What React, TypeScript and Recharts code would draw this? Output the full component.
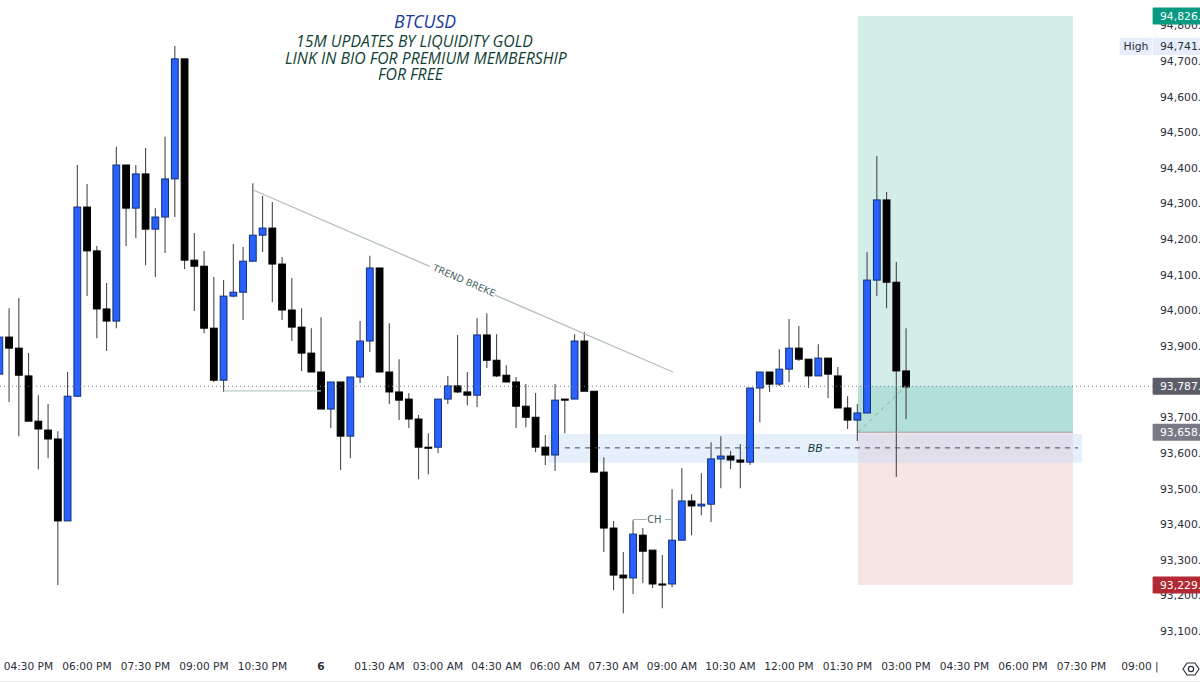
import React from 'react';
import {
  ComposedChart,
  Bar,
  XAxis,
  YAxis,
  ReferenceArea,
  ReferenceLine,
  ReferenceDot,
} from 'recharts';

const opens = [93821, 93925, 93894, 93816, 93689, 93664, 93639, 93409, 93759, 94290, 94167, 94004, 93970, 94408, 94287, 94383, 94228, 94262, 94369, 94706, 94141, 94124, 93950, 93804, 94040, 94051, 94138, 94211, 94231, 94130, 94001, 93953, 93880, 93827, 93723, 93799, 93647, 93813, 93914, 94119, 93827, 93771, 93751, 93695, 93616, 93616, 93751, 93788, 93771, 93762, 93931, 93860, 93818, 93799, 93731, 93700, 93616, 93594, 93751, 93751, 93914, 93773, 93546, 93389, 93257, 93249, 93369, 93327, 93232, 93232, 93355, 93465, 93451, 93456, 93583, 93591, 93580, 93574, 93782, 93827, 93793, 93835, 93894, 93863, 93816, 93866, 93816, 93726, 93692, 93712, 94085, 94310, 94079, 93830];
const highs = [93925, 94006, 94035, 93880, 93762, 93737, 93661, 93827, 94408, 94355, 94181, 94077, 94459, 94408, 94408, 94456, 94287, 94487, 94742, 94706, 94217, 94167, 94094, 94085, 94186, 94178, 94357, 94321, 94304, 94150, 94091, 94006, 93950, 93981, 93799, 93799, 93813, 93970, 94153, 94119, 93964, 93863, 93768, 93706, 93655, 93751, 93816, 93931, 93827, 93978, 93992, 93933, 93846, 93813, 93793, 93768, 93650, 93793, 93751, 93933, 93939, 93773, 93588, 93409, 93322, 93411, 93389, 93327, 93313, 93498, 93557, 93484, 93543, 93630, 93647, 93605, 93625, 93782, 93827, 93827, 93891, 93976, 93956, 93863, 93905, 93866, 93841, 93759, 93737, 94164, 94433, 94332, 94136, 93950];
const lows = [93821, 93743, 93647, 93689, 93554, 93585, 93229, 93409, 93757, 94040, 93922, 93886, 93950, 94181, 94203, 94127, 94094, 94161, 94262, 94116, 93998, 93936, 93799, 93771, 94037, 93973, 94138, 94164, 94023, 93973, 93914, 93830, 93827, 93723, 93670, 93552, 93585, 93796, 93883, 93827, 93737, 93692, 93670, 93526, 93540, 93599, 93737, 93768, 93734, 93729, 93838, 93813, 93799, 93670, 93672, 93602, 93566, 93549, 93655, 93751, 93773, 93546, 93322, 93215, 93150, 93204, 93235, 93221, 93164, 93223, 93355, 93369, 93425, 93406, 93501, 93554, 93501, 93566, 93686, 93771, 93788, 93799, 93858, 93782, 93816, 93754, 93726, 93667, 93633, 93712, 94040, 94006, 93532, 93695];
const closes = [93925, 93894, 93818, 93689, 93667, 93639, 93409, 93759, 94290, 94167, 94004, 93970, 94408, 94287, 94383, 94228, 94262, 94369, 94706, 94141, 94124, 93950, 93804, 94040, 94051, 94138, 94211, 94231, 94130, 94001, 93953, 93880, 93827, 93723, 93799, 93647, 93813, 93914, 94119, 93827, 93771, 93748, 93695, 93616, 93613, 93751, 93788, 93771, 93762, 93931, 93860, 93816, 93799, 93731, 93700, 93616, 93594, 93748, 93748, 93914, 93773, 93546, 93389, 93257, 93249, 93372, 93324, 93232, 93229, 93355, 93465, 93451, 93456, 93583, 93591, 93580, 93574, 93782, 93827, 93793, 93835, 93894, 93863, 93816, 93866, 93821, 93726, 93692, 93712, 94085, 94310, 94079, 93830, 93785];

// 93,800 sits behind the last price badge in the reference, so it is left out
const priceTicks = [93100, 93200, 93300, 93400, 93500, 93600, 93700, 93900, 94000, 94100, 94200, 94300, 94400, 94500, 94600, 94700, 94800];
const timeTicks = [3, 9, 15, 21, 27, 33, 39, 45, 51, 57, 63, 69, 75, 81, 87, 93, 99, 105, 111, 117];
const timeLabels = ['04:30 PM', '06:00 PM', '07:30 PM', '09:00 PM', '10:30 PM', '6', '01:30 AM', '03:00 AM', '04:30 AM', '06:00 AM', '07:30 AM', '09:00 AM', '10:30 AM', '12:00 PM', '01:30 PM', '03:00 PM', '04:30 PM', '06:00 PM', '07:30 PM', '09:00 |'];

const targetPrice = 94826;
const sessionHigh = 94741;
const lastPrice = 93787;
const entryPrice = 93658;
const stopPrice = 93229;
const zoneTop = 93653;
const zoneBottom = 93572;
const zoneMid = 93614;

const titleLines = ['15M UPDATES BY LIQUIDITY GOLD', 'LINK IN BIO FOR PREMIUM MEMBERSHIP', 'FOR FREE'];

const candles = opens.map((open, i) => ({
  t: i,
  open,
  high: highs[i],
  low: lows[i],
  close: closes[i],
  range: [lows[i], highs[i]],
}));

const FONT = '"DejaVu Sans", sans-serif';

const Candle = (props: any) => {
  const { x, y, width, height, payload } = props;
  const { open, close, high, low } = payload;
  const k = height / (high - low);
  const bodyTop = y + (high - Math.max(open, close)) * k;
  const bodyH = Math.max(Math.abs(open - close) * k, 1);
  const mid = x + width / 2;
  const up = close >= open;
  return (
    <g>
      <line x1={mid} x2={mid} y1={y} y2={y + height} stroke="#4a4a4a" strokeWidth={1.1} />
      <rect
        x={mid - 3.4}
        y={bodyTop}
        width={6.8}
        height={bodyH}
        fill={up ? '#2962ff' : '#000000'}
        stroke={up ? '#0f2f7a' : '#000000'}
        strokeWidth={1}
      />
    </g>
  );
};

const PriceTick = ({ y, payload }: any) => (
  <text x={1160} y={y} dy={4} fontSize={10.8} fontFamily={FONT} fill="#2a2e39">
    {payload.value.toLocaleString('en-US')}.
  </text>
);

const TimeTick = ({ x, y, payload }: any) => {
  const label = timeLabels[timeTicks.indexOf(payload.value)];
  return (
    <text
      x={x}
      y={y}
      dy={14}
      textAnchor="middle"
      fontSize={10.6}
      fontWeight={label === '6' ? 700 : 400}
      fontFamily={FONT}
      fill="#2a2e39"
    >
      {label}
    </text>
  );
};

const badge = (text: string, fill: string, color = '#ffffff') => (props: any) => (
  <g>
    <rect x={props.cx} y={props.cy - 8.5} width={50} height={17} fill={fill} rx={1} />
    <text x={1160} y={props.cy} dy={4} fontSize={10.8} fontFamily={FONT} fill={color}>
      {text}
    </text>
  </g>
);

const highBadge = (props: any) => (
  <g>
    <rect x={props.cx - 33} y={props.cy - 8.5} width={80} height={17} fill="#e6eefb" />
    <rect x={props.cx - 1} y={props.cy - 8.5} width={1} height={17} fill="#ffffff" />
    <text x={props.cx - 29} y={props.cy} dy={4} fontSize={10.8} fontFamily={FONT} fill="#2a2e39">High</text>
    <text x={1160} y={props.cy} dy={4} fontSize={10.8} fontFamily={FONT} fill="#2a2e39">94,741.</text>
  </g>
);

const note = (text: string, rotate = 0, italic = false, size = 9.5, color = '#45625d') => (props: any) => (
  <text
    x={props.cx}
    y={props.cy}
    dy={size * 0.36}
    textAnchor="middle"
    fontSize={size}
    fontStyle={italic ? 'italic' : 'normal'}
    fontFamily={FONT}
    fill={color}
    transform={rotate ? `rotate(${rotate} ${props.cx} ${props.cy})` : undefined}
  >
    {text}
  </text>
);

export default function App() {
  return (
    <div style={{ position: 'absolute', left: 0, top: 0, width: 1200, height: 684, overflow: 'hidden', background: '#fff' }}>
      <ComposedChart
        width={1200}
        height={684}
        data={candles}
        margin={{ top: 0, right: 0, bottom: 0, left: 0 }}
      >
        <XAxis
          dataKey="t"
          type="number"
          scale="linear"
          domain={[0.082, 123.16]}
          allowDataOverflow
          ticks={timeTicks}
          interval={0}
          height={36}
          axisLine={false}
          tickLine={false}
          tick={<TimeTick />}
        />
        <YAxis
          orientation="right"
          mirror
          domain={[93052.3, 94871.2]}
          ticks={priceTicks}
          interval={0}
          axisLine={false}
          tickLine={false}
          tick={<PriceTick />}
        />

        <ReferenceArea x1={88.08} x2={110.13} y1={entryPrice} y2={targetPrice} fill="#d4ede8" fillOpacity={1} stroke="none" />
        <ReferenceArea x1={88.08} x2={110.13} y1={entryPrice} y2={lastPrice} fill="#b2dfd8" fillOpacity={1} stroke="none" />
        <ReferenceArea x1={88.08} x2={110.13} y1={stopPrice} y2={entryPrice} fill="#f7e4e5" fillOpacity={1} stroke="none" />
        <ReferenceArea x1={56.3} x2={111.06} y1={zoneBottom} y2={zoneTop} fill="#bbd6f7" fillOpacity={0.37} stroke="none" />

        <ReferenceLine
          segment={[{ x: 0.082, y: lastPrice }, { x: 118.3, y: lastPrice }]}
          stroke="#7c7f8a"
          strokeDasharray="1 3"
        />
        <ReferenceLine
          segment={[{ x: 88.08, y: entryPrice }, { x: 110.13, y: entryPrice }]}
          stroke="#9a9ea3"
          strokeWidth={1}
        />
        <ReferenceLine
          segment={[{ x: 88.08, y: entryPrice }, { x: 93, y: lastPrice }]}
          stroke="#8fa9a4"
          strokeDasharray="4 4"
        />

        <ReferenceLine segment={[{ x: 26.03, y: 94338 }, { x: 44.2, y: 94123 }]} stroke="#b4bfbc" strokeWidth={1.3} />
        <ReferenceLine segment={[{ x: 50.85, y: 94043 }, { x: 69.1, y: 93827 }]} stroke="#b4bfbc" strokeWidth={1.3} />
        <ReferenceLine segment={[{ x: 23, y: 93774 }, { x: 33, y: 93774 }]} stroke="#b9d0cb" strokeWidth={1.2} />
        <ReferenceLine segment={[{ x: 65, y: 93413 }, { x: 66.4, y: 93413 }]} stroke="#9fb3af" />
        <ReferenceLine segment={[{ x: 68.3, y: 93413 }, { x: 69, y: 93413 }]} stroke="#9fb3af" />
        <ReferenceLine segment={[{ x: 58.03, y: zoneMid }, { x: 82.65, y: zoneMid }]} stroke="#3b4a56" strokeDasharray="5 5" />
        <ReferenceLine segment={[{ x: 84.7, y: zoneMid }, { x: 110.65, y: zoneMid }]} stroke="#3b4a56" strokeDasharray="5 5" />

        <Bar dataKey="range" barSize={8} shape={<Candle />} isAnimationActive={false} />

        <ReferenceDot x={47.7} y={94084} r={0} ifOverflow="visible" shape={note('TREND BREKE', 23.4)} />
        <ReferenceDot x={67.2} y={93413} r={0} ifOverflow="visible" shape={note('CH', 0, false, 10)} />
        <ReferenceDot x={83.7} y={zoneMid} r={0} ifOverflow="visible" shape={note('BB', 0, true, 11, '#0f3a3a')} />

        <ReferenceDot zIndex={2000} x={118.3} y={targetPrice} r={0} ifOverflow="visible" shape={badge('94,826.', '#089981')} />
        <ReferenceDot zIndex={2000} x={118.3} y={sessionHigh} r={0} ifOverflow="visible" shape={highBadge} />
        <ReferenceDot zIndex={2000} x={118.3} y={lastPrice} r={0} ifOverflow="visible" shape={badge('93,787.', '#5b5e69')} />
        <ReferenceDot zIndex={2000} x={118.3} y={entryPrice} r={0} ifOverflow="visible" shape={badge('93,658.', '#787b86')} />
        <ReferenceDot zIndex={2000} x={118.3} y={stopPrice} r={0} ifOverflow="visible" shape={badge('93,229.', '#b22833')} />
      </ComposedChart>

      <div style={{ position: 'absolute', left: 0, top: 0, width: 1200, fontFamily: '"Open Sans", sans-serif', fontStyle: 'italic', lineHeight: '16px' }}>
        <div style={{ position: 'absolute', left: 325, width: 200, top: 13, textAlign: 'center', fontSize: 17.6, color: '#1a3a9c' }}>BTCUSD</div>
        <div style={{ position: 'absolute', left: 296, top: 33, fontSize: 15.8, color: '#103f35', whiteSpace: 'nowrap' }}>{titleLines[0]}</div>
        <div style={{ position: 'absolute', left: 285, top: 49.5, fontSize: 15.8, color: '#103f35', whiteSpace: 'nowrap' }}>{titleLines[1]}</div>
        <div style={{ position: 'absolute', left: 378, top: 66, fontSize: 15.8, color: '#103f35', whiteSpace: 'nowrap' }}>{titleLines[2]}</div>
      </div>

      <div style={{ position: 'absolute', left: 0, top: 681, width: 1200, height: 1, background: '#eeeeee' }} />
      <svg style={{ position: 'absolute', left: 1182, top: 660 }} width={18} height={18} viewBox="0 0 18 18">
        <path d="M5 3 H13 L17 9 L13 15 H5 L1 9 Z" fill="none" stroke="#2a2e39" strokeWidth={1.2} strokeLinejoin="round" />
        <circle cx={9} cy={9} r={2.6} fill="none" stroke="#2a2e39" strokeWidth={1.2} />
      </svg>
    </div>
  );
}
